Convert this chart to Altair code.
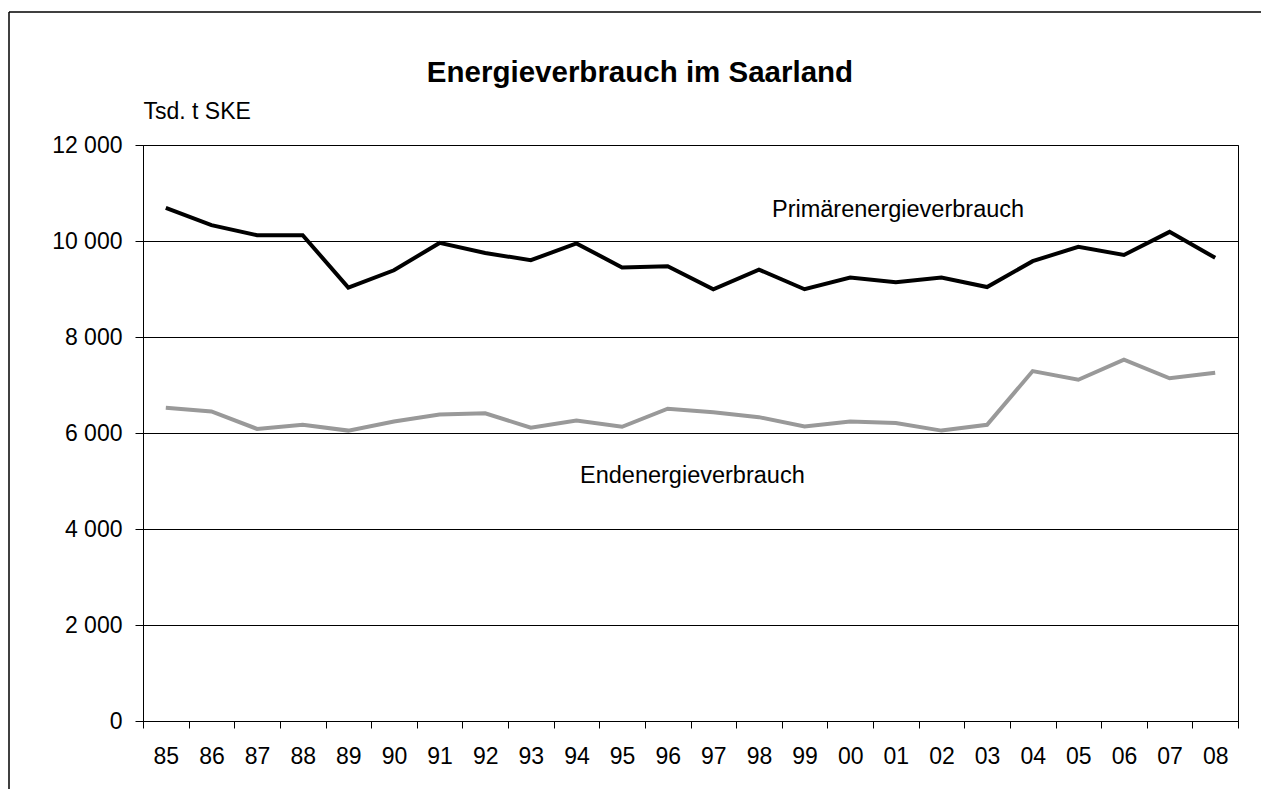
import altair as alt
import pandas as pd

years = ["85", "86", "87", "88", "89", "90", "91", "92", "93", "94", "95", "96",
         "97", "98", "99", "00", "01", "02", "03", "04", "05", "06", "07", "08"]
primaer = [10690, 10330, 10120, 10120, 9030, 9390, 9960, 9750, 9600, 9950, 9450, 9475,
           8995, 9405, 8995, 9240, 9140, 9240, 9040, 9580, 9880, 9710, 10190, 9650]
enden = [6525, 6450, 6085, 6170, 6050, 6240, 6385, 6410, 6110, 6260, 6130, 6505,
         6430, 6330, 6135, 6240, 6210, 6050, 6170, 7290, 7110, 7530, 7140, 7255]
series_names = ["Primärenergieverbrauch", "Endenergieverbrauch"]
series_colors = ["#000000", "#999999"]
y_ticks = [0, 2000, 4000, 6000, 8000, 10000, 12000]

title_text = "Energieverbrauch im Saarland"
unit_text = "Tsd. t SKE"

rows = []
for i, y in enumerate(years):
    rows.append({"Jahr": y, "Serie": series_names[0], "Wert": primaer[i]})
    rows.append({"Jahr": y, "Serie": series_names[1], "Wert": enden[i]})
df = pd.DataFrame(rows)

FONT = "Liberation Sans"
W, H = 1095, 576

lines = alt.Chart(df).mark_line(strokeWidth=4, strokeJoin="miter").encode(
    x=alt.X("Jahr:N", sort=years, bandPosition=0.5,
            scale=alt.Scale(type="band", paddingInner=0, paddingOuter=0),
            axis=alt.Axis(title=None, labelAngle=0, tickBand="extent", tickSize=7,
                          labelPadding=17, grid=False)),
    y=alt.Y("Wert:Q", scale=alt.Scale(domain=[0, 12000], nice=False),
            axis=alt.Axis(values=y_ticks, tickSize=8, labelPadding=13, grid=True,
                          labelExpr="replace(format(datum.value, ','), ',', ' ')",
                          title=unit_text, titleAngle=0, titleAlign="left",
                          titleBaseline="alphabetic", titleX=0, titleY=-27,
                          titleFontWeight="normal", titleFontSize=23, titleFont=FONT,
                          titleColor="black")),
    color=alt.Color("Serie:N", scale=alt.Scale(domain=series_names, range=series_colors),
                    legend=None),
    detail="Serie:N",
)

one = alt.Data(values=[{}])

lab_p = alt.Chart(one).mark_text(text=series_names[0], font=FONT, fontSize=23.5,
                                 align="left", baseline="alphabetic", color="black").encode(
    x=alt.value(629), y=alt.value(72))
lab_e = alt.Chart(one).mark_text(text=series_names[1], font=FONT, fontSize=23.5,
                                 align="left", baseline="alphabetic", color="black").encode(
    x=alt.value(437), y=alt.value(338))
title = alt.Chart(one).mark_text(text=title_text, font=FONT, fontSize=29.5, fontWeight="bold",
                                 align="center", baseline="alphabetic", color="black").encode(
    x=alt.value(497), y=alt.value(-63))
frame_top = alt.Chart(one).mark_rule(stroke="black", strokeWidth=1.5).encode(
    x=alt.value(-134), x2=alt.value(1300), y=alt.value(-133))
frame_left = alt.Chart(one).mark_rule(stroke="black", strokeWidth=1.5).encode(
    x=alt.value(-134), y=alt.value(-133), y2=alt.value(900))

chart = alt.layer(frame_top, frame_left, lines, lab_p, lab_e, title).properties(
    width=W, height=H,
    autosize=alt.AutoSizeParams(type="none"),
    padding={"left": 135, "top": 137, "right": 23, "bottom": 68},
).configure_view(stroke="black", strokeWidth=1).configure_axis(
    labelFont=FONT, labelFontSize=23, labelColor="black",
    domainColor="black", tickColor="black", gridColor="black", gridWidth=1,
    domainWidth=1, tickWidth=1,
)

chart.save("out.html", embed_options={"renderer": "svg", "actions": False})
